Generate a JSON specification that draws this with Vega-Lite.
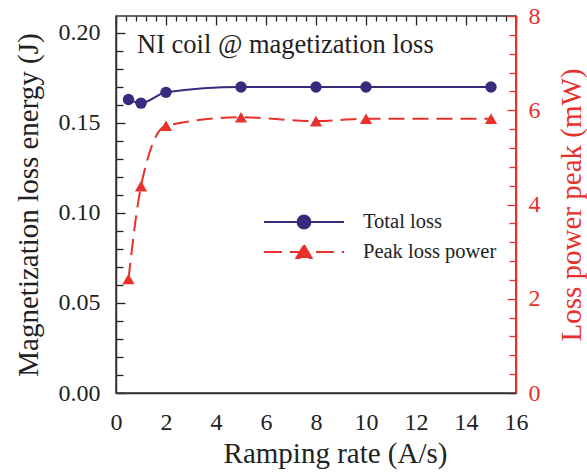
{
  "$schema": "https://vega.github.io/schema/vega-lite/v6.json",
  "width": 400,
  "height": 377,
  "autosize": {"type": "none"},
  "padding": {"left": 116, "top": 16, "right": 71, "bottom": 83},
  "config": {
    "font": "Liberation Serif",
    "view": {"stroke": "#333333", "strokeWidth": 1.5},
    "style": {"guide-label": {"font": "Liberation Serif"}, "guide-title": {"font": "Liberation Serif", "fontWeight": "normal"}},
    "axis": {"grid": false, "ticks": false, "labelFont": "Liberation Serif", "titleFont": "Liberation Serif", "titleFontWeight": "normal", "labelFlush": false, "labelOverlap": false, "domainWidth": 1.5, "gridWidth": 1.3, "gridOpacity": 1}
  },
  "title": {"text": "NI coil @ magetization loss", "anchor": "start", "frame": "group", "orient": "top", "offset": -32, "dy": 43, "dx": 21, "baseline": "alphabetic", "fontSize": 26.5, "fontWeight": "normal", "font": "Liberation Serif", "color": "#222222"},
  "data": {"values": [
    {"rate": 0.5, "series": "Total loss", "value": 0.163},
    {"rate": 1, "series": "Total loss", "value": 0.161},
    {"rate": 2, "series": "Total loss", "value": 0.167},
    {"rate": 5, "series": "Total loss", "value": 0.170},
    {"rate": 8, "series": "Total loss", "value": 0.170},
    {"rate": 10, "series": "Total loss", "value": 0.170},
    {"rate": 15, "series": "Total loss", "value": 0.170},
    {"rate": 0.5, "series": "Peak loss power", "value": 2.42},
    {"rate": 1, "series": "Peak loss power", "value": 4.39},
    {"rate": 2, "series": "Peak loss power", "value": 5.67},
    {"rate": 5, "series": "Peak loss power", "value": 5.85},
    {"rate": 8, "series": "Peak loss power", "value": 5.77},
    {"rate": 10, "series": "Peak loss power", "value": 5.82},
    {"rate": 15, "series": "Peak loss power", "value": 5.82}
  ]},
  "layer": [
    {
      "transform": [{"filter": "datum.series == 'Total loss'"}],
      "mark": {"type": "line", "strokeWidth": 2, "interpolate": "monotone"},
      "encoding": {
        "x": {"field": "rate", "type": "quantitative", "scale": {"domain": [0, 16], "nice": false},
          "axis": {"orient": "bottom", "values": [0, 2, 4, 6, 8, 10, 12, 14, 16], "grid": true, "gridDash": [9, 2000], "gridColor": "#222222", "labelPadding": 17, "labelFont": "Liberation Serif", "labelFontSize": 24, "labelColor": "#222222", "domainColor": "#333333", "title": "Ramping rate (A/s)", "titleFont": "Liberation Serif", "titleFontWeight": "normal", "titleFontSize": 29, "titleColor": "#222222", "titlePadding": 5, "titleX": 219}},
        "y": {"field": "value", "type": "quantitative", "scale": {"domain": [0, 0.2094], "nice": false, "zero": true},
          "axis": {"orient": "left", "values": [0, 0.05, 0.1, 0.15, 0.2], "format": ".2f", "grid": true, "gridDash": [9, 2000], "gridColor": "#222222", "labelPadding": 16, "labelFont": "Liberation Serif", "labelFontSize": 24, "labelColor": "#222222", "domainColor": "#333333", "title": "Magnetization loss energy (J)", "titleFont": "Liberation Serif", "titleFontWeight": "normal", "titleFontSize": 29, "titleColor": "#222222", "titlePadding": 15}},
        "color": {"field": "series", "type": "nominal",
          "scale": {"domain": ["Total loss", "Peak loss power"], "range": ["#3a2a7e", "#e8302c"]},
          "legend": {
            "orient": "none", "legendX": 145, "legendY": 191, "title": null, "direction": "vertical", "padding": 0,
            "symbolSize": 784, "symbolStrokeWidth": 2, "symbolOffset": 28, "labelOffset": 44, "rowPadding": 4,
            "labelFont": "Liberation Serif", "labelFontSize": 20.5, "labelColor": "#222222", "labelLimit": 300,
            "encode": {"symbols": {"update": {
              "shape": {"signal": "datum.value == 'Total loss' ? 'M-2.86,0H2.86M0.46,0A0.46,0.46 0 1 1 -0.46,0A0.46,0.46 0 1 1 0.46,0Z' : 'M-2.86,0H2.86M0,-0.5L0.54,0.43L-0.54,0.43Z'"},
              "strokeDash": {"signal": "datum.value == 'Total loss' ? [] : [18, 8]"},
              "fill": {"signal": "datum.value == 'Total loss' ? '#3a2a7e' : '#e8302c'"},
              "stroke": {"signal": "datum.value == 'Total loss' ? '#3a2a7e' : '#e8302c'"},
              "opacity": {"value": 1},
              "fillOpacity": {"value": 1},
              "strokeOpacity": {"value": 1}
            }}}
          }}
      }
    },
    {
      "transform": [{"filter": "datum.series == 'Total loss'"}],
      "mark": {"type": "point", "shape": "circle", "filled": true, "size": 130, "opacity": 1},
      "encoding": {
        "x": {"field": "rate", "type": "quantitative", "axis": null},
        "y": {"field": "value", "type": "quantitative", "scale": {"domain": [0, 0.2094], "nice": false}, "axis": null},
        "color": {"field": "series", "type": "nominal", "scale": {"domain": ["Total loss", "Peak loss power"], "range": ["#3a2a7e", "#e8302c"]}}
      }
    },
    {
      "transform": [{"filter": "datum.series == 'Peak loss power'"}],
      "mark": {"type": "line", "strokeWidth": 2, "strokeDash": [16, 8], "interpolate": "monotone"},
      "encoding": {
        "x": {"field": "rate", "type": "quantitative", "axis": null},
        "y": {"field": "value", "type": "quantitative", "scale": {"domain": [0, 8], "nice": false},
          "axis": {"orient": "right", "values": [0, 2, 4, 6, 8], "grid": true, "gridDash": [9, 2000], "gridColor": "#e8302c", "labelPadding": 12, "labelFont": "Liberation Serif", "labelFontSize": 24, "labelColor": "#e8302c", "domainColor": "#e8302c", "title": "Loss power peak (mW)", "titleFont": "Liberation Serif", "titleFontWeight": "normal", "titleFontSize": 29, "titleColor": "#e8302c", "titleAngle": 270, "titleBaseline": "top", "titlePadding": 17}},
        "color": {"field": "series", "type": "nominal", "scale": {"domain": ["Total loss", "Peak loss power"], "range": ["#3a2a7e", "#e8302c"]}}
      }
    },
    {
      "transform": [{"filter": "datum.series == 'Peak loss power'"}],
      "mark": {"type": "point", "shape": "triangle-up", "filled": true, "size": 150, "opacity": 1},
      "encoding": {
        "x": {"field": "rate", "type": "quantitative", "axis": null},
        "y": {"field": "value", "type": "quantitative", "scale": {"domain": [0, 8], "nice": false}, "axis": null},
        "color": {"field": "series", "type": "nominal", "scale": {"domain": ["Total loss", "Peak loss power"], "range": ["#3a2a7e", "#e8302c"]}}
      }
    },
    {
      "transform": [{"filter": "datum.series == 'Total loss'"}],
      "mark": {"type": "point", "opacity": 0},
      "encoding": {
        "x": {"field": "rate", "type": "quantitative",
          "axis": {"orient": "bottom", "values": [0.4, 0.8, 1.2, 1.6, 2.4, 2.8, 3.2, 3.6, 4.4, 4.8, 5.2, 5.6, 6.4, 6.8, 7.2, 7.6, 8.4, 8.8, 9.2, 9.6, 10.4, 10.8, 11.2, 11.6, 12.4, 12.8, 13.2, 13.6, 14.4, 14.8, 15.2, 15.6], "grid": true, "gridDash": [5, 2000], "gridColor": "#222222", "labels": false, "domain": false, "title": null}},
        "y": {"field": "value", "type": "quantitative", "scale": {"domain": [0, 0.2094], "nice": false},
          "axis": {"orient": "left", "values": [0.01, 0.02, 0.03, 0.04, 0.06, 0.07, 0.08, 0.09, 0.11, 0.12, 0.13, 0.14, 0.16, 0.17, 0.18, 0.19], "grid": true, "gridDash": [7, 2000], "gridColor": "#222222", "labels": false, "domain": false, "title": null}}
      }
    },
    {
      "transform": [{"filter": "datum.series == 'Peak loss power'"}],
      "mark": {"type": "point", "opacity": 0},
      "encoding": {
        "x": {"field": "rate", "type": "quantitative", "axis": null},
        "y": {"field": "value", "type": "quantitative", "scale": {"domain": [0, 8], "nice": false},
          "axis": {"orient": "right", "values": [0.4, 0.8, 1.2, 1.6, 2.4, 2.8, 3.2, 3.6, 4.4, 4.8, 5.2, 5.6, 6.4, 6.8, 7.2, 7.6], "grid": true, "gridDash": [7, 2000], "gridColor": "#e8302c", "labels": false, "domain": false, "title": null}}
      }
    }
  ],
  "resolve": {"scale": {"y": "independent"}, "axis": {"x": "independent", "y": "independent"}}
}
